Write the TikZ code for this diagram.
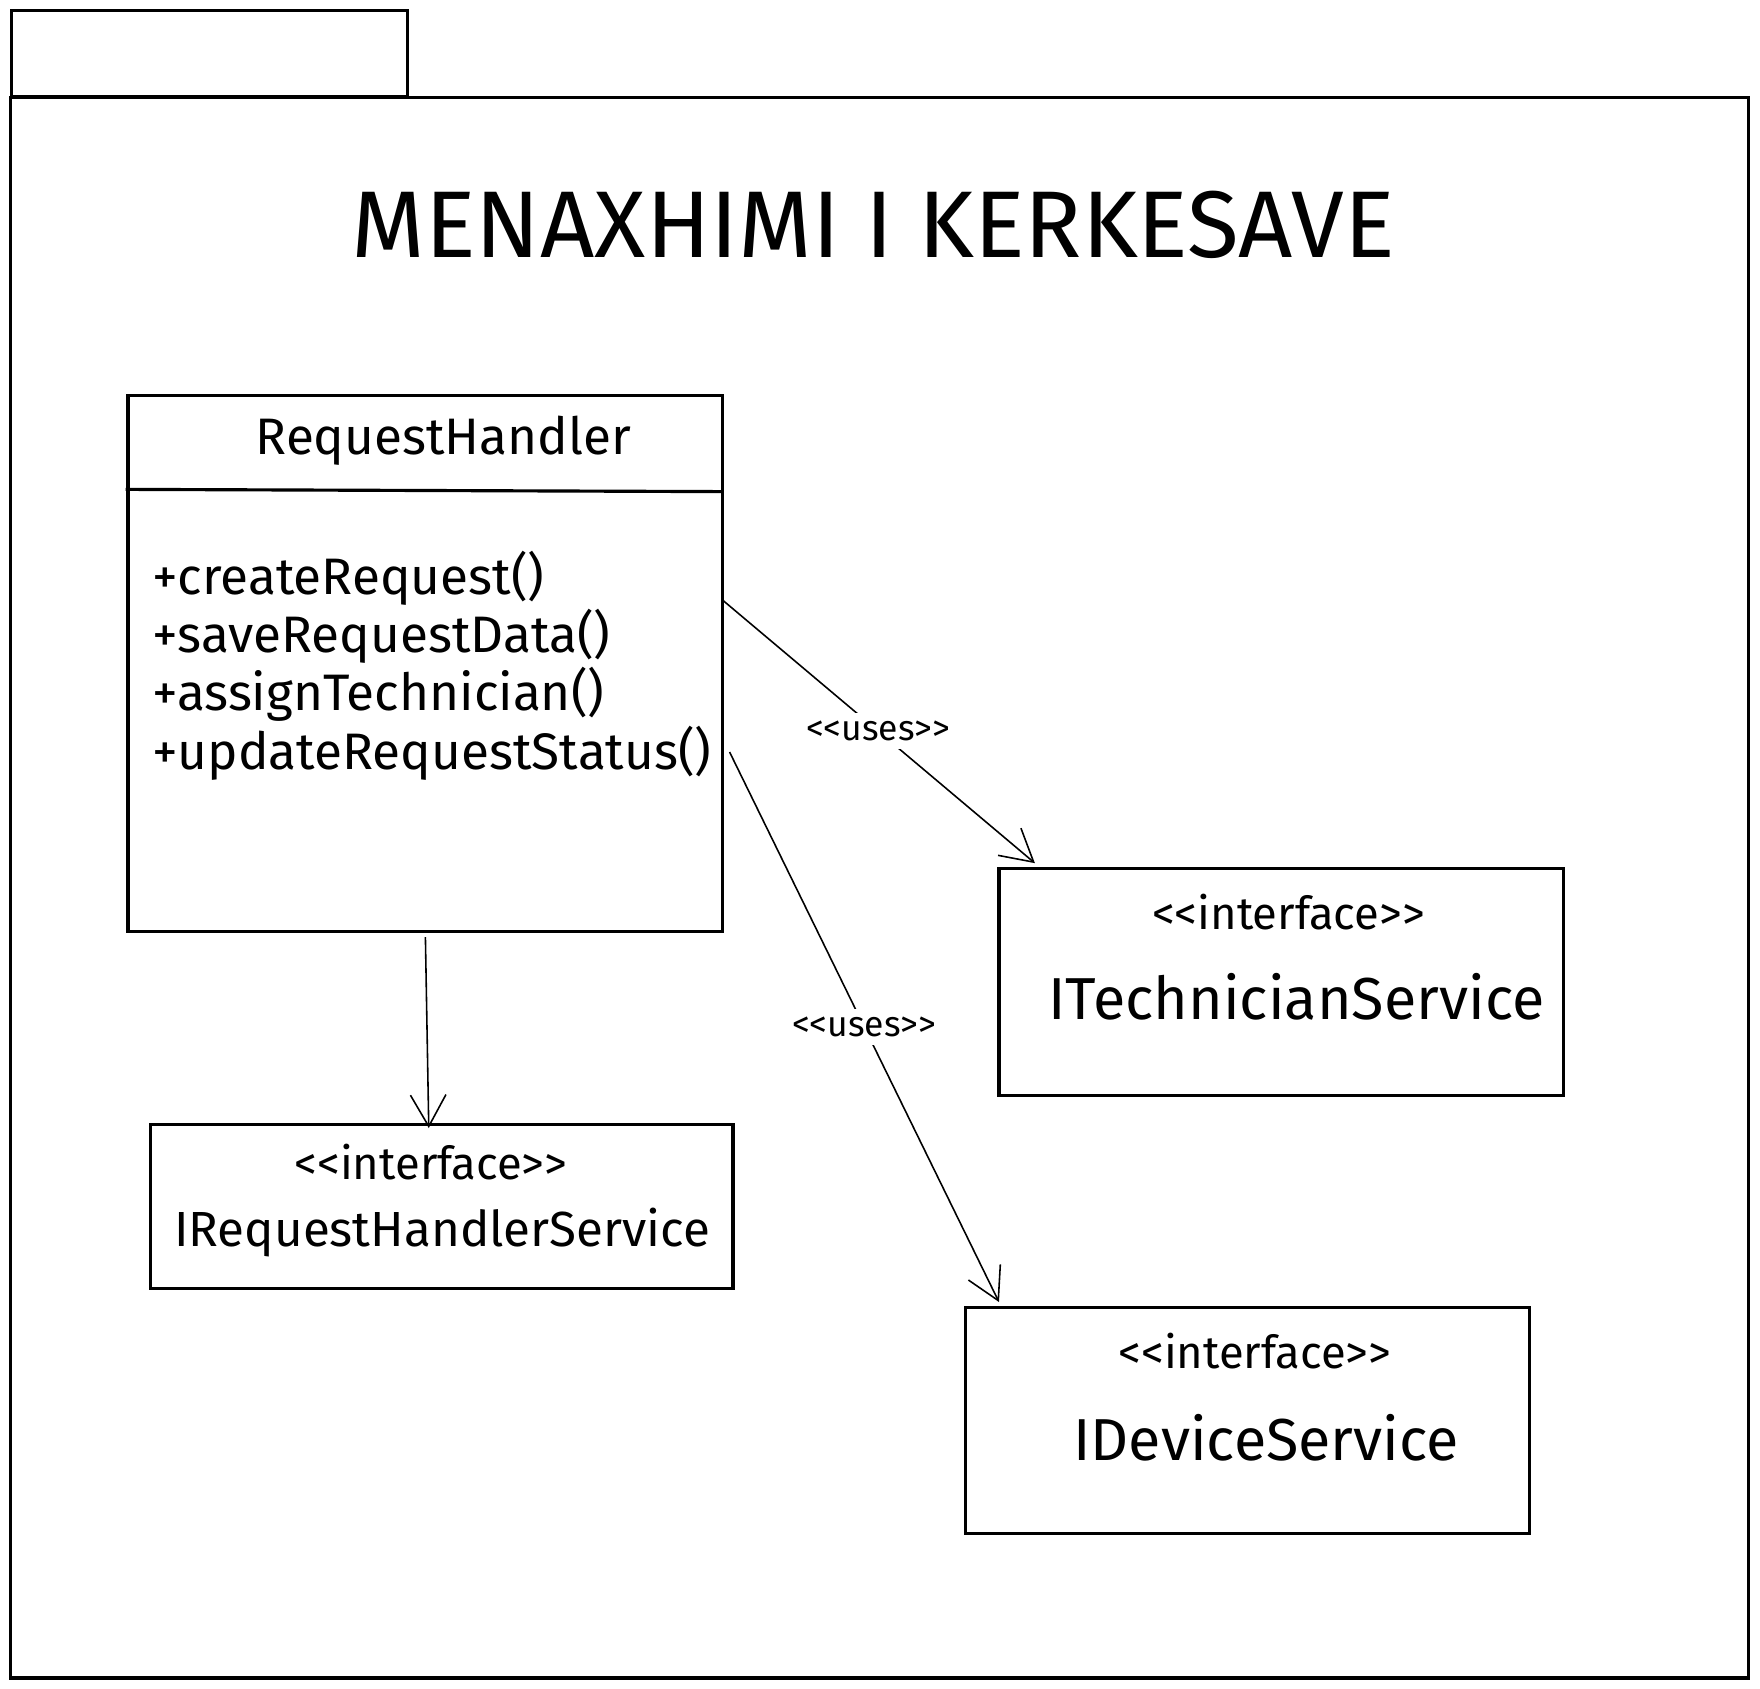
\documentclass[tikz,border=0pt]{standalone}
\usepackage{fontspec}
\setmainfont{Fira Sans}
\usetikzlibrary{arrows.meta,positioning}
\newcommand{\stereo}[1]{{<}{<}#1{>}{>}}
\tikzset{box/.style={draw, thick, inner sep=0pt}}
\tikzset{arrow/.style={-{Straight Barb[length=8pt,width=9pt]}, thin}}
\tikzset{uses/.style={fill=white, font=\fontsize{9}{10}\selectfont, inner sep=2pt}}
\tikzset{iface/.style={font=\fontsize{11.5}{13}\selectfont}}
\begin{document}
\begin{tikzpicture}[x=0.01cm, y=-0.01cm]
	\useasboundingbox (0,0) rectangle (1568,1504);
	% Frame
	\draw[thick] (10,9) rectangle (363,86);
	\draw[thick] (9,87) rectangle (1558,1495);
	\node (title) at (778,200) {\fontsize{24}{28}\selectfont MENAXHIMI I KERKESAVE};

	% Classes
	\draw[box] (114,352) rectangle (644,830);
	\draw[thick] (112,436) -- (644,438);
	\node (rhname) at (395,393) {\fontsize{13}{15}\selectfont RequestHandler};
	\node (methods) [anchor=north west, align=left, font=\fontsize{13}{14.8}\selectfont, inner sep=0pt] at (135,490)
		{+createRequest()\\+saveRequestData()\\+assignTechnician()\\+updateRequestStatus()};

	\draw[box] (890,774) rectangle (1393,976);
	\node (techif) [iface] at (1148,813) {\stereo{interface}};
	\node (tech) at (1155,888) {\fontsize{15}{17}\selectfont ITechnicianService};

	\draw[box] (134,1002) rectangle (653,1148);
	\node (rhsif) [iface] at (384,1035) {\stereo{interface}};
	\node (rhs) at (394,1098) {\fontsize{12.5}{15}\selectfont IRequestHandlerService};

	\draw[box] (860,1165) rectangle (1363,1366);
	\node (devif) [iface] at (1118,1204) {\stereo{interface}};
	\node (dev) at (1128,1281) {\fontsize{15}{17}\selectfont IDeviceService};

	% Connectors
	\coordinate (a1) at (643,534);
	\coordinate (b1) at (922,769);
	\coordinate (a2) at (650,670);
	\coordinate (b2) at (890,1160);
	\coordinate (a3) at (379,835);
	\coordinate (b3) at (382,1005);
	\draw[arrow] (a1) -- node[uses, pos=0.5] {\stereo{uses}} (b1);
	\draw[arrow] (a2) -- node[uses, pos=0.5] {\stereo{uses}} (b2);
	\draw[arrow] (a3) -- (b3);
\end{tikzpicture}
\end{document}
